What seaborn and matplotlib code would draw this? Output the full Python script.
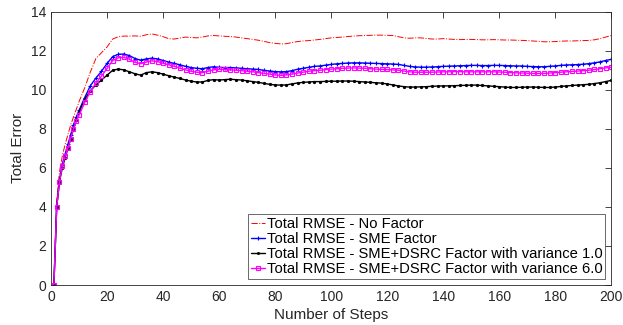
import numpy as np
import pandas as pd
import matplotlib
matplotlib.use("Agg")
import matplotlib.pyplot as plt
import seaborn as sns

# -------------------------------------------------------
# Data
# -------------------------------------------------------
steps = list(range(1, 11)) + list(range(12, 201, 2))

rmse_no_factor = [
    0.0, 4.3, 5.8, 6.6, 7.2, 7.7, 8.2, 8.6, 9.0, 9.4,
    10.1, 10.9, 11.6, 11.9, 12.2, 12.6, 12.72, 12.75, 12.75, 12.76,
    12.74, 12.82, 12.86, 12.8, 12.72, 12.62, 12.6, 12.65, 12.7, 12.68,
    12.66, 12.7, 12.76, 12.78, 12.76, 12.74, 12.73, 12.7, 12.66, 12.62,
    12.58, 12.54, 12.48, 12.42, 12.38, 12.35, 12.36, 12.42, 12.47, 12.5,
    12.52, 12.55, 12.58, 12.62, 12.66, 12.68, 12.7, 12.73, 12.75, 12.77,
    12.78, 12.79, 12.8, 12.8, 12.79, 12.78, 12.72, 12.66, 12.64, 12.66,
    12.66, 12.63, 12.6, 12.6, 12.62, 12.6, 12.58, 12.57, 12.58, 12.58,
    12.57, 12.56, 12.56, 12.57, 12.56, 12.55, 12.55, 12.54, 12.53, 12.52,
    12.5, 12.48, 12.46, 12.46, 12.47, 12.49, 12.5, 12.5, 12.51, 12.52,
    12.53, 12.56, 12.62, 12.7, 12.78,
]

rmse_sme = [
    0.0, 4.0, 5.4, 6.2, 6.7, 7.2, 7.7, 8.2, 8.6, 8.95,
    9.6, 10.2, 10.6, 10.95, 11.35, 11.7, 11.82, 11.83, 11.75, 11.6,
    11.52, 11.58, 11.62, 11.58, 11.5, 11.42, 11.35, 11.28, 11.2, 11.14,
    11.1, 11.08, 11.14, 11.18, 11.15, 11.14, 11.14, 11.12, 11.1, 11.08,
    11.06, 11.04, 11.0, 10.96, 10.93, 10.92, 10.93, 10.98, 11.05, 11.1,
    11.15, 11.2, 11.22, 11.26, 11.3, 11.33, 11.35, 11.37, 11.38, 11.38,
    11.37, 11.36, 11.35, 11.34, 11.33, 11.32, 11.3, 11.25, 11.2, 11.17,
    11.16, 11.16, 11.17, 11.18, 11.2, 11.21, 11.22, 11.23, 11.24, 11.25,
    11.25, 11.24, 11.24, 11.25, 11.25, 11.24, 11.23, 11.22, 11.22, 11.2,
    11.19, 11.18, 11.18, 11.2, 11.22, 11.25, 11.27, 11.28, 11.29, 11.31,
    11.34, 11.38, 11.43, 11.5, 11.56,
]

rmse_dsrc_var1 = [
    0.0, 4.0, 5.3, 6.0, 6.5, 7.0, 7.5, 8.0, 8.45, 8.85,
    9.5, 9.95, 10.25, 10.5, 10.75, 11.0, 11.06, 11.02, 10.92, 10.82,
    10.75, 10.88, 10.92, 10.88, 10.8, 10.72, 10.65, 10.58, 10.5, 10.44,
    10.4, 10.4, 10.48, 10.52, 10.5, 10.52, 10.54, 10.52, 10.5, 10.46,
    10.42, 10.38, 10.33, 10.28, 10.25, 10.24, 10.25, 10.3, 10.35, 10.38,
    10.4, 10.42, 10.42, 10.43, 10.44, 10.44, 10.45, 10.45, 10.44, 10.42,
    10.4, 10.38, 10.36, 10.34, 10.3, 10.25, 10.2, 10.16, 10.14, 10.14,
    10.15, 10.16, 10.18, 10.19, 10.2, 10.2, 10.21, 10.22, 10.23, 10.24,
    10.24, 10.22, 10.2, 10.18, 10.16, 10.14, 10.12, 10.12, 10.13, 10.14,
    10.14, 10.13, 10.12, 10.12, 10.14, 10.17, 10.2, 10.22, 10.24, 10.26,
    10.28, 10.32, 10.36, 10.42, 10.48,
]

rmse_dsrc_var6 = [
    0.0, 4.0, 5.3, 6.1, 6.6, 7.0, 7.5, 8.0, 8.4, 8.7,
    9.35, 9.9, 10.35, 10.7, 11.1, 11.5, 11.64, 11.66, 11.56, 11.4,
    11.34, 11.42, 11.48, 11.44, 11.36, 11.28, 11.2, 11.1, 11.02, 10.95,
    10.9, 10.88, 10.95, 11.02, 11.05, 11.04, 11.02, 11.0, 10.98, 10.95,
    10.92, 10.88, 10.84, 10.8, 10.76, 10.74, 10.76, 10.8, 10.86, 10.9,
    10.95, 10.98, 11.0, 11.03, 11.06, 11.08, 11.1, 11.11, 11.12, 11.11,
    11.1, 11.08, 11.06, 11.05, 11.04, 11.02, 11.0, 10.96, 10.92, 10.9,
    10.9, 10.9, 10.9, 10.91, 10.92, 10.92, 10.93, 10.93, 10.92, 10.92,
    10.92, 10.92, 10.92, 10.92, 10.91, 10.9, 10.88, 10.87, 10.86, 10.85,
    10.84, 10.84, 10.84, 10.86, 10.88, 10.9, 10.92, 10.94, 10.96, 10.98,
    11.0, 11.04, 11.08, 11.12, 11.16,
]

labels = [
    "Total RMSE - No Factor",
    "Total RMSE - SME Factor",
    "Total RMSE - SME+DSRC Factor with variance 1.0",
    "Total RMSE - SME+DSRC Factor with variance 6.0",
]

# -------------------------------------------------------
# Plot
# -------------------------------------------------------
sns.set_style("white")
plt.rcParams["font.family"] = ["Liberation Sans", "DejaVu Sans"]
plt.rcParams["xtick.direction"] = "in"
plt.rcParams["ytick.direction"] = "in"

text_col = "#262626"

fig = plt.figure(figsize=(6.23, 3.25), dpi=100)
ax = fig.add_axes([0.082, 0.123, 0.899, 0.841])

# (values, colour, linestyle, marker, markersize, linewidth)
styles = [
    (rmse_no_factor, "red", "-.", "None", 0, 0.7),
    (rmse_sme, "blue", "-", "+", 3.0, 1.0),
    (rmse_dsrc_var1, "black", "-", ".", 3.0, 1.0),
    (rmse_dsrc_var6, "magenta", "-", "s", 2.6, 1.0),
]

for (vals, col, ls, mk, ms, lw), lab in zip(styles, labels):
    sns.lineplot(x=steps, y=vals, ax=ax, color=col, label=lab)
    line = ax.lines[-1]
    line.set_linestyle(ls)
    line.set_linewidth(lw)
    line.set_marker(mk)
    line.set_markersize(ms)
    line.set_markeredgewidth(0.8)
    line.set_markeredgecolor(col)
    line.set_markerfacecolor("none" if mk == "s" else col)

ax.set_xlim(0, 200)
ax.set_ylim(0, 14)
ax.set_xticks(np.arange(0, 201, 20))
ax.set_yticks(np.arange(0, 15, 2))
ax.tick_params(axis="both", labelsize=10, colors=text_col, length=4, width=0.6,
               top=True, right=True, labelcolor=text_col)
for sp in ax.spines.values():
    sp.set_visible(True)
    sp.set_color(text_col)
    sp.set_linewidth(0.6)

ax.set_xlabel("Number of Steps", fontsize=11, color=text_col, labelpad=3)
ax.set_ylabel("Total Error", fontsize=11, color=text_col, labelpad=4)

handles = ax.lines[:4]
leg = ax.legend(handles, labels, loc="lower right", bbox_to_anchor=(0.995, 0.01),
                fontsize=10.6, frameon=True, fancybox=False, handlelength=0.9,
                handletextpad=0.15, borderpad=0.2, labelspacing=0.08,
                borderaxespad=0.2, markerscale=0.9)
leg.get_frame().set_edgecolor(text_col)
leg.get_frame().set_linewidth(0.6)
for t in leg.get_texts():
    t.set_color("black")

fig.savefig("out.png", dpi=100)
